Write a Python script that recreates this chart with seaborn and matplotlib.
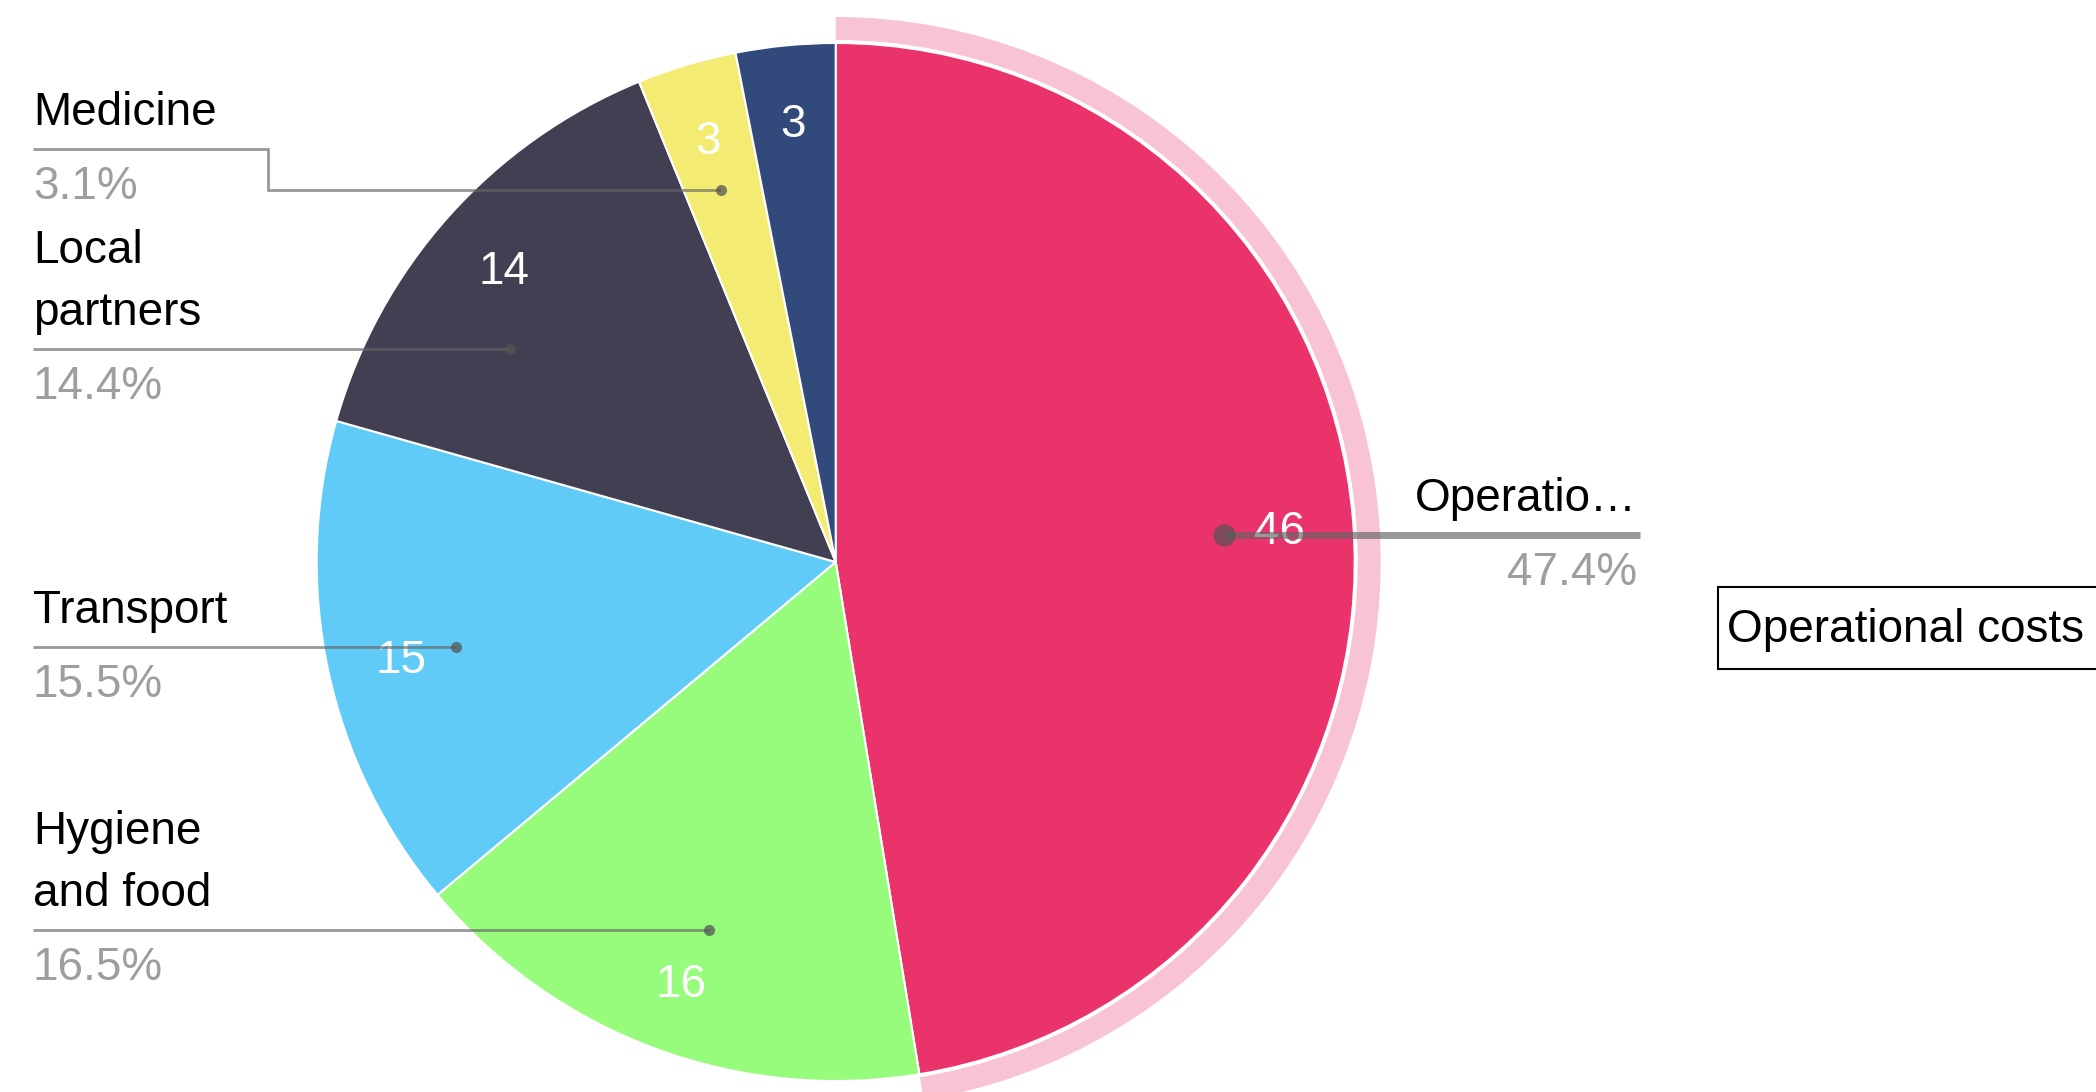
import numpy as np
import matplotlib
matplotlib.use("Agg")
import matplotlib.pyplot as plt
from matplotlib.patches import Wedge, Rectangle
import seaborn as sns

# ---- data ----
categories = ["Operational costs", "Hygiene and food", "Transport",
              "Local partners", "Medicine", "Other"]
values = [46, 16, 15, 14, 3, 3]
slice_colors = ["#E9336A", "#97FB7C", "#61CBF8", "#423F53", "#F4EC72", "#324A7B"]
shown_names = ["Operatio\u2026", "Hygiene\nand food", "Transport",
               "Local\npartners", "Medicine", None]
highlighted = "Operational costs"

# ---- layout (pixel coordinates from the top-left) ----
W, H = 2096, 1092
CX, CY_PX, R = 835.7, 562, 519
label_line_y = [535, 930, 647, 349, 190, None]   # y where leader line meets dot
text_line_y = [535, 930, 647, 349, 149, None]    # y of line under the label text
FS = 33

sns.set_theme(style="white")
plt.rcParams['font.family'] = ['Liberation Sans', 'DejaVu Sans']


def Y(py):
    return H - py


fig = plt.figure(figsize=(W / 100, H / 100), dpi=100)
ax = fig.add_axes([0, 0, 1, 1])
cy = Y(CY_PX)

wedges, _ = ax.pie(values, colors=slice_colors, startangle=90, counterclock=False,
                   center=(CX, cy), radius=R,
                   wedgeprops=dict(edgecolor="white", linewidth=1.5))

# highlight ring around selected slice
hi = categories.index(highlighted)
wh = wedges[hi]
ring = Wedge((CX, cy), R + 26, wh.theta1, wh.theta2, width=23,
             facecolor="#F8C4D4", edgecolor="none", zorder=0.5)
ax.add_patch(ring)

# value labels inside slices
for i, (w, v) in enumerate(zip(wedges, values)):
    mid = np.deg2rad((w.theta1 + w.theta2) / 2)
    rr = R * 0.857
    ax.text(CX + rr * np.cos(mid), cy + rr * np.sin(mid) - 6, str(v),
            color="white", fontsize=FS, ha="center", va="center", zorder=3)

total = sum(values)
LC, LA = "#666666", 0.67
left_x = 33
for i, name in enumerate(shown_names):
    if name is None:
        continue
    pct = f"{values[i] / total * 100:.1f}%"
    ly = label_line_y[i]
    ty = text_line_y[i]
    dy = CY_PX - ly
    dxr = np.sqrt((0.75 * R) ** 2 - dy ** 2)
    if i == hi:
        dot_x = CX + dxr
        end_x = 1640
        ax.plot([dot_x, end_x], [Y(ly), Y(ly)], lw=5, color=LC, alpha=LA,
                solid_capstyle="butt", zorder=4)
        ax.plot(dot_x, Y(ly), "o", ms=16, color="#555555", alpha=0.7, mec="none", zorder=4)
        ax.text(1637, Y(ly - 24), name, fontsize=FS, color="black", ha="right",
                va="baseline", zorder=5)
        ax.text(1637, Y(ly + 50), pct, fontsize=FS, color="#9E9E9E", ha="right",
                va="baseline", zorder=5)
    else:
        dot_x = CX - dxr
        if ty != ly:
            elbow_x = 268
            xs = [left_x, elbow_x, elbow_x, dot_x]
            ys = [Y(ty), Y(ty), Y(ly), Y(ly)]
        else:
            xs = [left_x, dot_x]
            ys = [Y(ly), Y(ly)]
        ax.plot(xs, ys, lw=2, color=LC, alpha=LA, solid_capstyle="butt",
                solid_joinstyle="miter", zorder=4)
        ax.plot(dot_x, Y(ly), "o", ms=8, color="#555555", alpha=0.75, mec="none", zorder=4)
        lines = name.split("\n")
        n = len(lines)
        for k, t in enumerate(lines):
            ax.text(left_x, Y(ty - 24 - 62 * (n - 1 - k)), t, fontsize=FS,
                    color="black", ha="left", va="baseline", zorder=5)
        ax.text(left_x, Y(ty + 50), pct, fontsize=FS, color="#9E9E9E",
                ha="left", va="baseline", zorder=5)

# tooltip box
ax.add_patch(Rectangle((1718, Y(669)), 420, 82, facecolor="white",
                       edgecolor="black", linewidth=1.5, zorder=6))
ax.text(1727, Y(630), highlighted, fontsize=FS, color="black", ha="left",
        va="center", zorder=7)

ax.set_xlim(0, W)
ax.set_ylim(0, H)
ax.set_aspect("auto")
ax.axis("off")
fig.savefig("out.png", dpi=100)
